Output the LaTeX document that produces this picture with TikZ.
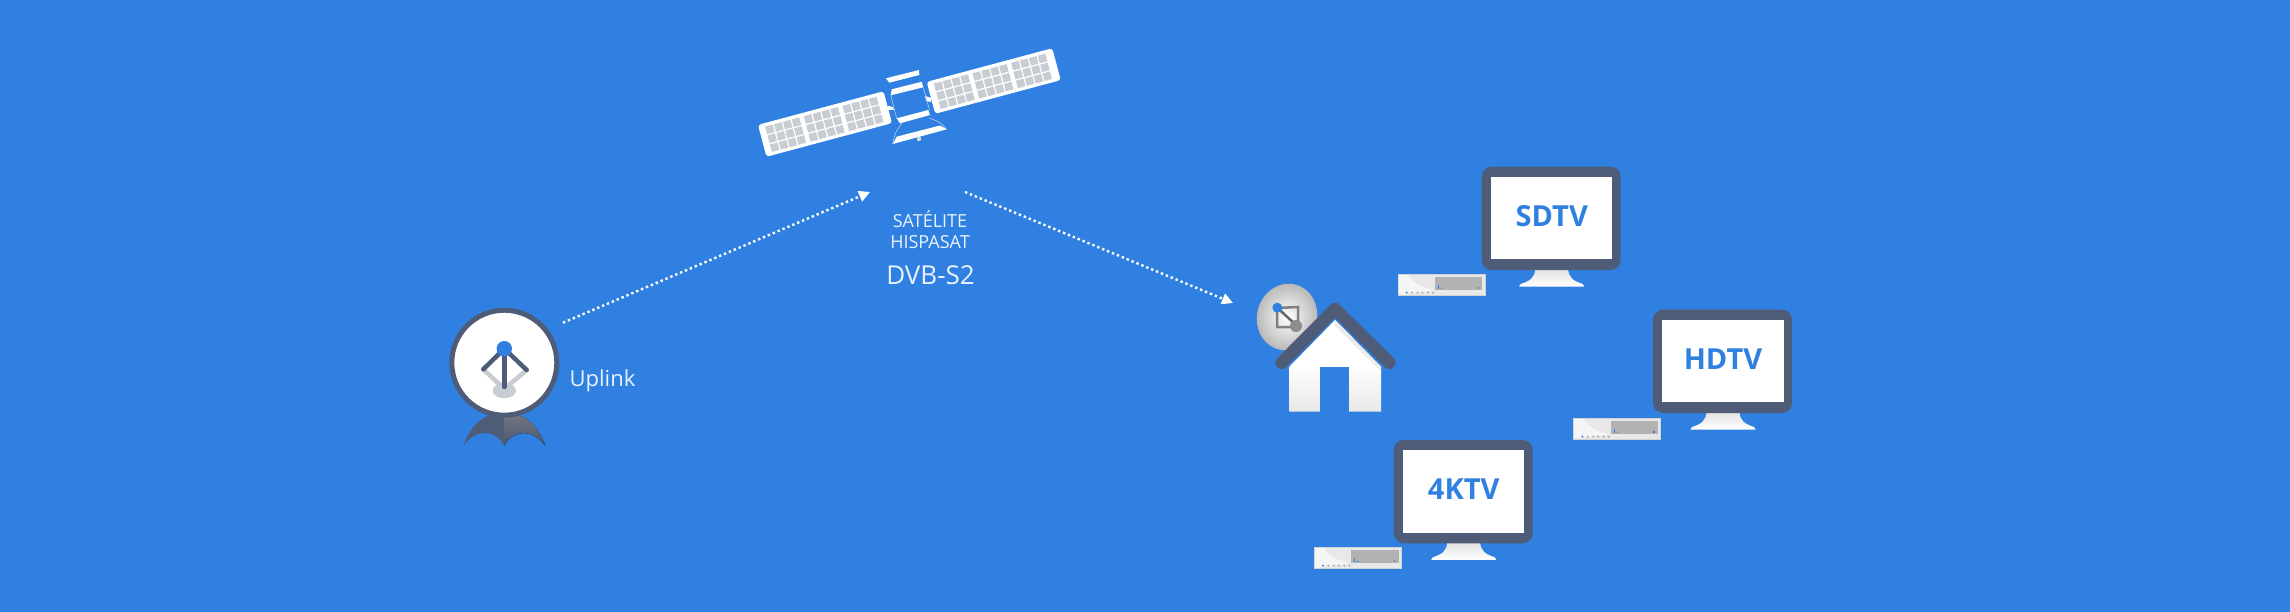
\documentclass[tikz,border=0pt]{standalone}
\usepackage{fontspec}
\setmainfont{Open Sans}
\usetikzlibrary{arrows.meta,calc,positioning}
\definecolor{bgblue}{HTML}{2F80E1}
\definecolor{slate}{HTML}{4E5C78}
\definecolor{cellgrey}{HTML}{C8CCD3}
\tikzset{
>={Triangle[length=11pt,width=11pt]},
  link/.style={draw=white, line width=2.4pt, dash pattern=on 2.4pt off 2.9pt, ->},
  caption/.style={text=white!90!bgblue, inner sep=0pt, align=center},
  panel/.style={fill=white, rounded corners=3pt},
  cell/.style={fill=cellgrey},
  thinline/.style={draw=white!60!bgblue, line width=.6pt},
  monitor/.style={
    rectangle,
    fill=white,
    minimum width=121.4pt,
    minimum height=82.6pt,
    text depth=4pt,
    inner sep=0pt,
    text=bgblue,
    font=\fontsize{29}{29}\selectfont\bfseries},
  settop/.style={fill=white!82!gray, draw=white!65!gray, line width=1pt},
}
\begin{document}
\begin{tikzpicture}[x=1pt,y=-1pt]

    % background
    \fill[bgblue] (0,0) rectangle (2290,612);

    % satellite panels
    \foreach \panelx/\panely in {825/124, 993.7/81}{
      \begin{scope}[shift={(\panelx,\panely)},rotate=15]
        \fill[panel] (-65,-16.5) rectangle (65,16.5);
        \foreach \group in {0,1,2}
          \foreach \col in {0,1,2,3}
            \foreach \row in {0,1,2}
              \fill[cell] ({-58.5+40*\group+9.2*\col},{-13+9.2*\row}) rectangle +(7.8,7.8);
      \end{scope}
    }
    % satellite body
    \fill[white] (886,78.3) -- (919,70) -- (919.3,75) -- (889.3,82.7) -- cycle;
    \fill[white] (891.7,89.3) -- (921.7,81.7) -- (923.3,87.3) -- (890.7,95.3) -- cycle;
    \fill[white] (896.7,118.3) -- (928.3,110) -- (930,115) -- (900,123.3) -- cycle;
    \fill[white] (892.7,144) -- (896.7,136.7) -- (940,125.5) -- (946.7,129.3) -- cycle;
    \fill[white] (888,106) -- (893,107) -- (894,110) -- (888,110) -- cycle;
    \fill[white] (925,96) -- (931,98) -- (931,102) -- (926,101) -- cycle;
    \draw[thinline] (890.7,95.3) -- (896.7,118.3);
    \draw[thinline] (923.3,87.3) -- (929.5,110);
    \draw[thinline] (892.7,144) .. controls (895,133) .. (901.7,123);
    \draw[thinline] (946.7,129.3) .. controls (940,122) .. (929,118);
    \fill[white!70!gray] (919,139) circle (2.2);

    % labels
    \node[caption, font=\fontsize{18}{21}\selectfont] (sat) at (930,229.3) {SATÉLITE\\HISPASAT};
    \node[caption, font=\fontsize{26}{26}\selectfont] (dvb) at (930.5,275) {DVB-S2};
    \node[caption, font=\fontsize{22}{22}\selectfont] (uplinklabel) at (602.5,380.5) {Uplink};

    % uplink dish
    \fill[slate] (463.3,445.7) .. controls (470,428) and (478,420) .. (488,416) -- (504.3,416) -- (504.3,446)
      .. controls (498,432) and (478,426) .. cycle;
    \fill[top color=gray!70!slate, bottom color=slate!95!black] (545.3,445.7) .. controls (538.6,428) and (530.6,420) .. (520.6,416) -- (504.3,416) -- (504.3,446)
      .. controls (510.6,432) and (530.6,426) .. cycle;
    \node[circle, draw=slate, line width=5pt, fill=white, minimum size=105pt, inner sep=0pt] (dish) at (504.3,362.7) {};
    \fill[cellgrey] (504.3,390.7) ellipse (11.7 and 7.5);
    \draw[cellgrey, line width=4.5pt, line cap=round] (483.3,369.3) -- (504.3,389) -- (526.7,370);
    \draw[slate, line width=4.5pt, line cap=round] (483.3,369.3) -- (504.3,348.7) -- (526.7,370);
    \draw[slate, line width=4.5pt, line cap=round] (504.3,348.7) -- (504.3,387);
    \fill[bgblue] (504.3,348.7) circle (7.7);

    % home dish
    \begin{scope}[shift={(1287,317)},rotate=-15]
      \shade[inner color=white, outer color=gray!60] (0,0) ellipse (30 and 33.5);
    \end{scope}
    \draw[gray, line width=2.5pt] (1277,308) -- (1298,307) -- (1298,327) -- (1277,327) -- cycle;
    \draw[gray!80!black, line width=2.5pt] (1277.3,307.7) -- (1297,326);
    \fill[gray!90] (1296,326) circle (6);
    \fill[bgblue] (1277.3,307.7) circle (5);

    % house
    \shade[top color=white, bottom color=white!82!gray, middle color=white]
      (1289.3,366.7) -- (1335,320) -- (1381,366.7) -- (1381,411.7) -- (1289.3,411.7) -- cycle;
    \fill[white!85!gray] (1335,320) -- (1381,366.7) -- (1381,371) -- (1335,326) -- cycle;
    \fill[bgblue] (1320,366.7) rectangle (1349.3,411.7);
    \draw[slate, line width=12.5pt, line cap=round, line join=round] (1281.7,362.7) -- (1335,309) -- (1389.3,362.7);

    % monitors and boxes
    \foreach \tvname/\tvx/\tvy/\boxx/\boxy in {SDTV/1551.7/218/-153.7/56.3, HDTV/1723/361/-149.3/57.3, 4KTV/1463.7/491.3/-149.4/56}{
      \begin{scope}[shift={(\tvx,\tvy)}]
        \shade[top color=white!75!gray, bottom color=white]
          (-16.5,50) .. controls (-16.5,60) and (-22,63) .. (-31,66) -- (-32.5,68.5) -- (32.5,68.5) -- (31,66)
          .. controls (22,63) and (16.5,60) .. (16.5,50) -- cycle;
        \fill[slate, rounded corners=10pt] (-70,-51.3) rectangle (69,52);
        \node[monitor] (tv\tvname) at (0,0) {\tvname};
        % set-top box
        \begin{scope}[shift={(\boxx,\boxy)}]
          \draw[settop] (0,0) rectangle (87,21);
          \fill[white!92!gray] (.5,.5) -- (10,.5) .. controls (14,8) and (24,14) .. (37,16) -- (.5,20.5) -- cycle;
          \fill[gray!60] (37,2.7) rectangle (84.3,16);
          \fill[bgblue] (40,11) rectangle +(1,4);
          \fill[bgblue] (43,13.5) rectangle +(1.3,1.5);
          \fill[bgblue] (79.5,13) rectangle +(1.3,2);
          \fill[bgblue] (8.7,18.3) circle (1.1);
          \foreach \dotx in {14,19.5,24.5,30,35}
            \fill[gray!70] (\dotx,18.3) circle (1.1);
        \end{scope}
      \end{scope}
    }

    % links
    \coordinate (uplinkout) at (563,322.7);
    \coordinate (satin) at (870,192);
    \coordinate (satout) at (965,192);
    \coordinate (homein) at (1233,303);
    \draw[link] (uplinkout) -- (satin);
    \draw[link] (satout) -- (homein);

\end{tikzpicture}
\end{document}
